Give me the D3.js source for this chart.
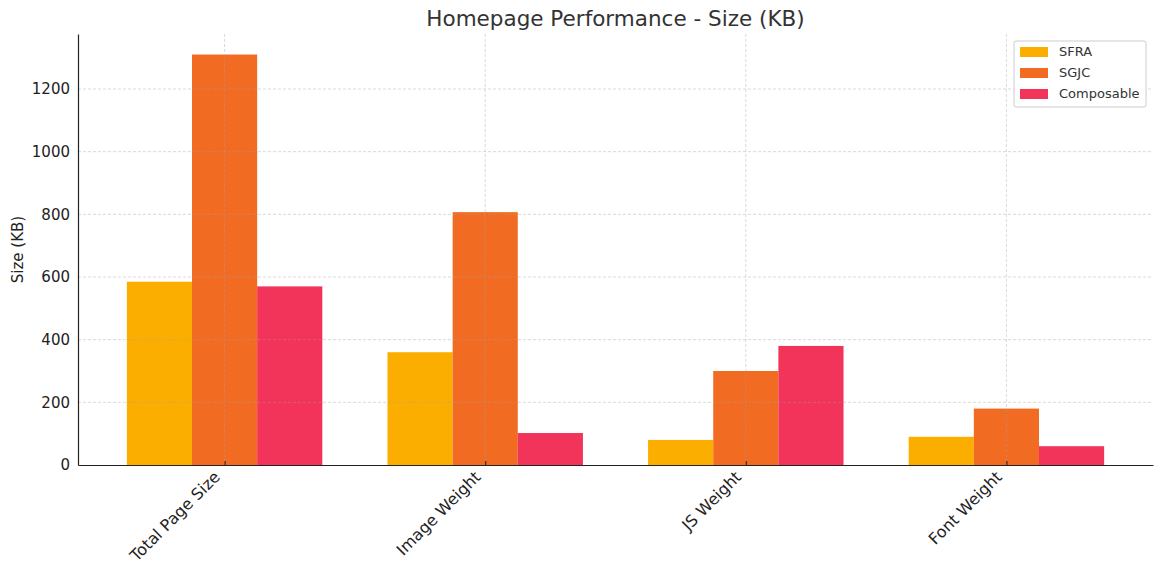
<!DOCTYPE html>
<html>
<head>
<meta charset="utf-8">
<script src="https://cdn.jsdelivr.net/npm/d3@7"></script>
<style>
  body { margin: 0; background: #fff; }
  text { font-family: "DejaVu Sans", sans-serif; }
</style>
</head>
<body>
<div id="chart"></div>
<script>
// Data
var categories = ["Total Page Size", "Image Weight", "JS Weight", "Font Weight"];
var seriesNames = ["SFRA", "SGJC", "Composable"];
var sfra = [585, 360, 80, 90];
var sgjc = [1310, 807, 300, 180];
var composable = [570, 102, 380, 60];
var yTicks = [0, 200, 400, 600, 800, 1000, 1200];
var colors = ["#FCAE00", "#F26B23", "#F2335A"];

var allSeries = [sfra, sgjc, composable];

var W = 1163, H = 577;
var margin = { top: 34, right: 10, bottom: 112, left: 78 },
    width = W - margin.left - margin.right,
    height = H - margin.top - margin.bottom;

var svg = d3.select("#chart")
  .append("svg")
  .attr("width", W)
  .attr("height", H);

var g = svg.append("g")
  .attr("transform", "translate(" + margin.left + "," + margin.top + ")");

// matplotlib-like: bar width 0.25, 5% margins
var barW = 0.25;
var x = d3.scaleLinear()
  .domain([-0.5625, 3.5625])
  .range([0, width]);
var yMax = d3.max(allSeries, function(s) { return d3.max(s); }) * 1.05;
var y = d3.scaleLinear()
  .domain([0, yMax])
  .range([height, 0]);

// bars
seriesNames.forEach(function(name, si) {
  g.selectAll(".bar" + si)
    .data(allSeries[si])
    .enter()
    .append("rect")
    .attr("x", function(d, i) { return x(i + (si - 1) * barW - barW / 2); })
    .attr("width", x(barW) - x(0))
    .attr("y", function(d) { return y(d); })
    .attr("height", function(d) { return height - y(d); })
    .attr("fill", colors[si]);
});

// grid (drawn over bars, faint)
g.append("g")
  .selectAll("line")
  .data(yTicks.slice(1))
  .enter()
  .append("line")
  .attr("x1", 0).attr("x2", width)
  .attr("y1", function(d) { return y(d); })
  .attr("y2", function(d) { return y(d); })
  .attr("stroke", "#a0a0a0")
  .attr("stroke-opacity", 0.5)
  .attr("stroke-width", 0.8)
  .attr("stroke-dasharray", "3,2");

g.append("g")
  .selectAll("line")
  .data(categories)
  .enter()
  .append("line")
  .attr("x1", function(d, i) { return x(i); })
  .attr("x2", function(d, i) { return x(i); })
  .attr("y1", 0).attr("y2", height)
  .attr("stroke", "#a0a0a0")
  .attr("stroke-opacity", 0.5)
  .attr("stroke-width", 0.8)
  .attr("stroke-dasharray", "3,2");

// y axis
var yAxis = d3.axisLeft(y).tickValues(yTicks).tickFormat(d3.format("d"))
  .tickSize(0).tickPadding(8);
var yG = g.append("g").call(yAxis);
yG.select(".domain").attr("stroke", "#222").attr("stroke-width", 1.2);
yG.selectAll("text")
  .attr("font-size", 15)
  .attr("fill", "#222")
  .style("font-family", "DejaVu Sans, sans-serif");

// x axis
var xAxis = d3.axisBottom(x)
  .tickValues(d3.range(categories.length))
  .tickFormat(function(d) { return categories[d]; })
  .tickSizeInner(-4).tickSizeOuter(0).tickPadding(6);
var xG = g.append("g")
  .attr("transform", "translate(0," + height + ")")
  .call(xAxis);
xG.select(".domain").attr("stroke", "#222").attr("stroke-width", 1.2);
xG.selectAll(".tick line").attr("stroke", "#222");
xG.selectAll("text")
  .attr("x", 0).attr("y", 0)
  .attr("font-size", 16)
  .attr("fill", "#222")
  .style("font-family", "DejaVu Sans, sans-serif")
  .attr("text-anchor", "end")
  .attr("dy", "0.35em")
  .attr("transform", "translate(-8,9) rotate(-45)");

// y label
svg.append("text")
  .attr("transform", "translate(23," + (margin.top + height / 2) + ") rotate(-90)")
  .attr("text-anchor", "middle")
  .attr("font-size", 15)
  .attr("fill", "#222")
  .text("Size (KB)");

// title
svg.append("text")
  .attr("x", margin.left + width / 2)
  .attr("y", 26)
  .attr("text-anchor", "middle")
  .attr("font-size", 21.5)
  .attr("fill", "#333")
  .text("Homepage Performance - Size (KB)");

// legend
var lg = svg.append("g").attr("transform", "translate(1014,41)");
lg.append("rect")
  .attr("width", 132).attr("height", 66)
  .attr("rx", 2)
  .attr("fill", "#fff").attr("fill-opacity", 0.85)
  .attr("stroke", "#ccc");
seriesNames.forEach(function(name, i) {
  lg.append("rect")
    .attr("x", 6).attr("y", 6 + i * 21)
    .attr("width", 28).attr("height", 10)
    .attr("fill", colors[i]);
  lg.append("text")
    .attr("x", 45).attr("y", 15 + i * 21)
    .attr("font-size", 13)
    .attr("fill", "#333")
    .text(name);
});
</script>
</body>
</html>
